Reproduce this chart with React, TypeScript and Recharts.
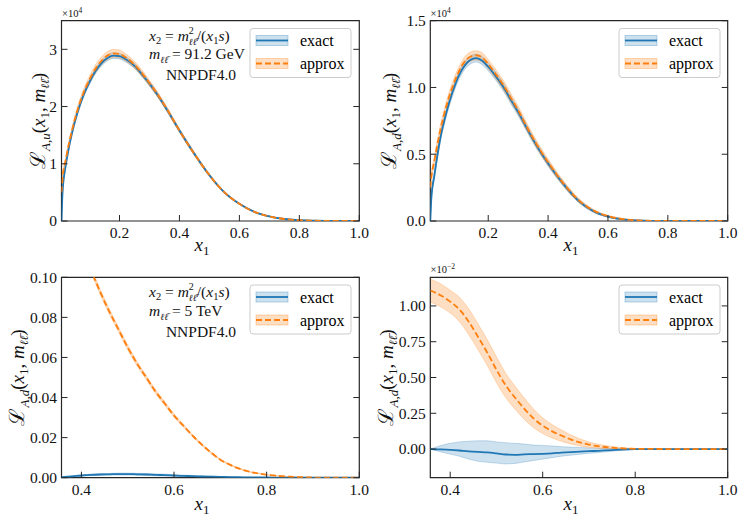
import React from 'react';
import { ComposedChart, Line, Area, XAxis, YAxis, ReferenceArea } from 'recharts';

const BLUE = '#1f77b4';
const ORANGE = '#ff7f0e';
const INK = '#262626';
const SERIF = '"Liberation Serif", "DejaVu Serif", serif';
const DJV = '"DejaVu Serif", serif';
const PAGE_W = 747;
const PAGE_H = 523;

// top row, m_ll = 91.2 GeV (values in units of 1e4)
const xTop = [0.0065, 0.01, 0.02, 0.03, 0.04, 0.06, 0.08, 0.1, 0.12, 0.14, 0.16, 0.18, 0.2, 0.22, 0.25, 0.28, 0.3, 0.33, 0.36, 0.4, 0.45, 0.5, 0.55, 0.6, 0.65, 0.7, 0.75, 0.8, 0.85, 0.9, 1.0];

const exactAu = [0, 0.5, 0.95, 1.25, 1.5, 1.9, 2.2, 2.43, 2.62, 2.76, 2.85, 2.89, 2.88, 2.83, 2.71, 2.53, 2.4, 2.18, 1.93, 1.58, 1.17, 0.8, 0.5, 0.3, 0.16, 0.08, 0.035, 0.015, 0.005, 0.002, 0];
const exactAuErr = [0, 0.02, 0.03, 0.03, 0.035, 0.04, 0.04, 0.045, 0.045, 0.05, 0.05, 0.05, 0.05, 0.05, 0.045, 0.04, 0.04, 0.035, 0.03, 0.03, 0.025, 0.02, 0.015, 0.01, 0.008, 0.005, 0.003, 0.002, 0.001, 0, 0];
const approxAu = [0.5, 0.75, 1.05, 1.32, 1.55, 1.94, 2.24, 2.47, 2.66, 2.8, 2.89, 2.93, 2.92, 2.86, 2.73, 2.55, 2.41, 2.19, 1.94, 1.58, 1.17, 0.8, 0.5, 0.3, 0.16, 0.08, 0.035, 0.015, 0.005, 0.002, 0];
const approxAuErr = [0.05, 0.05, 0.05, 0.05, 0.055, 0.06, 0.06, 0.065, 0.07, 0.07, 0.07, 0.07, 0.07, 0.065, 0.06, 0.055, 0.05, 0.045, 0.04, 0.035, 0.03, 0.025, 0.018, 0.012, 0.008, 0.005, 0.003, 0.002, 0.001, 0, 0];

const exactAd = [0, 0.17, 0.34, 0.49, 0.62, 0.81, 0.96, 1.08, 1.16, 1.205, 1.22, 1.2, 1.155, 1.1, 1.005, 0.89, 0.815, 0.69, 0.57, 0.43, 0.28, 0.155, 0.075, 0.033, 0.012, 0.004, 0.001, 0, 0, 0, 0];
const exactAdErr = [0, 0.02, 0.025, 0.03, 0.03, 0.03, 0.03, 0.03, 0.03, 0.03, 0.03, 0.03, 0.03, 0.03, 0.03, 0.028, 0.026, 0.024, 0.022, 0.02, 0.017, 0.013, 0.009, 0.006, 0.003, 0.001, 0, 0, 0, 0, 0];
const approxAd = [0.25, 0.33, 0.45, 0.57, 0.68, 0.86, 1.0, 1.11, 1.19, 1.23, 1.24, 1.225, 1.175, 1.115, 1.02, 0.905, 0.83, 0.7, 0.58, 0.44, 0.285, 0.16, 0.08, 0.036, 0.014, 0.005, 0.001, 0, 0, 0, 0];
const approxAdErr = [0.03, 0.03, 0.03, 0.035, 0.035, 0.035, 0.035, 0.035, 0.035, 0.035, 0.035, 0.035, 0.035, 0.035, 0.035, 0.033, 0.031, 0.029, 0.027, 0.024, 0.02, 0.015, 0.01, 0.007, 0.004, 0.002, 0.001, 0, 0, 0, 0];

// bottom row, m_ll = 5 TeV
const xBottom = [0.357, 0.38, 0.4, 0.42, 0.44, 0.46, 0.48, 0.5, 0.52, 0.54, 0.56, 0.58, 0.6, 0.62, 0.64, 0.66, 0.68, 0.7, 0.72, 0.75, 0.8, 0.85, 0.9, 0.95, 1.0];

const exactHi = [0.0003, 0.0007, 0.0011, 0.0014, 0.0016, 0.0017, 0.0018, 0.0018, 0.0017, 0.0016, 0.0014, 0.0013, 0.0011, 0.0009, 0.0008, 0.0006, 0.0005, 0.0004, 0.0003, 0.0002, 0.0001, 0, 0, 0, 0];
const exactHiErr = [0.0002, 0.0003, 0.0003, 0.0004, 0.0004, 0.0004, 0.0005, 0.0005, 0.0005, 0.0005, 0.0005, 0.0005, 0.0004, 0.0004, 0.0003, 0.0003, 0.0003, 0.0002, 0.0002, 0.0001, 0.0001, 0, 0, 0, 0];
const approxHi = [0.128, 0.121, 0.114, 0.104, 0.093, 0.083, 0.074, 0.065, 0.057, 0.05, 0.043, 0.037, 0.031, 0.026, 0.021, 0.0165, 0.0125, 0.009, 0.0065, 0.0038, 0.0015, 0.0005, 0.0001, 0, 0];
const approxHiErr = [0.0015, 0.0015, 0.0014, 0.0014, 0.0013, 0.0013, 0.0012, 0.0012, 0.0011, 0.001, 0.001, 0.0009, 0.0008, 0.0007, 0.0006, 0.0005, 0.0004, 0.0003, 0.0003, 0.0002, 0.0001, 0, 0, 0, 0];

// bottom right, units of 1e-2
const exactLo = [0, -0.002, -0.005, -0.01, -0.016, -0.02, -0.023, -0.03, -0.038, -0.04, -0.037, -0.035, -0.033, -0.03, -0.025, -0.021, -0.018, -0.015, -0.012, -0.007, -0.001, 0, 0, 0, 0];
const exactLoUpper = [0, 0.025, 0.04, 0.05, 0.055, 0.058, 0.058, 0.05, 0.044, 0.04, 0.035, 0.028, 0.025, 0.022, 0.017, 0.014, 0.011, 0.008, 0.006, 0.004, 0.001, 0, 0, 0, 0];
const exactLoLower = [0, -0.02, -0.035, -0.05, -0.07, -0.085, -0.092, -0.098, -0.104, -0.1, -0.09, -0.08, -0.07, -0.06, -0.05, -0.043, -0.036, -0.03, -0.024, -0.015, -0.003, 0, 0, 0, 0];
const approxLo = [1.108, 1.073, 1.03, 0.975, 0.89, 0.785, 0.675, 0.555, 0.445, 0.36, 0.283, 0.215, 0.163, 0.125, 0.095, 0.068, 0.047, 0.031, 0.02, 0.01, 0.002, 0.0005, 0, 0, 0];
const approxLoErr = [0.08, 0.08, 0.08, 0.085, 0.09, 0.09, 0.09, 0.09, 0.085, 0.08, 0.075, 0.065, 0.055, 0.047, 0.04, 0.032, 0.025, 0.019, 0.014, 0.008, 0.002, 0.0005, 0, 0, 0];

const ticksTopX = [0.2, 0.4, 0.6, 0.8, 1.0];
const ticksBottomX = [0.4, 0.6, 0.8, 1.0];

type Panel = {
  left: number; top: number; right: number; bottom: number;
  rows: any[];
  xDomain: [number, number]; yDomain: [number, number];
  xTicks: number[]; yTicks: number[];
  yFmt: (v: number) => string;
};

function rows(xs: number[], ex: number[], exLo: number[], exHi: number[], ap: number[], apLo: number[], apHi: number[]) {
  return xs.map((x, i) => ({
    x,
    exact: ex[i],
    exactBand: [exLo[i], exHi[i]],
    approx: ap[i],
    approxBand: [apLo[i], apHi[i]],
  }));
}
const minus = (v: number[], e: number[]) => v.map((a, i) => a - e[i]);
const plus = (v: number[], e: number[]) => v.map((a, i) => a + e[i]);

const panels: Panel[] = [
  {
    left: 61.5, top: 20.7, right: 359.3, bottom: 221,
    rows: rows(xTop, exactAu, minus(exactAu, exactAuErr), plus(exactAu, exactAuErr), approxAu, minus(approxAu, approxAuErr), plus(approxAu, approxAuErr)),
    xDomain: [0.0065, 1], yDomain: [0, 3.5], xTicks: ticksTopX, yTicks: [0, 1, 2, 3],
    yFmt: (v) => v.toFixed(0),
  },
  {
    left: 430.3, top: 20.7, right: 727.7, bottom: 221,
    rows: rows(xTop, exactAd, minus(exactAd, exactAdErr), plus(exactAd, exactAdErr), approxAd, minus(approxAd, approxAdErr), plus(approxAd, approxAdErr)),
    xDomain: [0.0065, 1], yDomain: [0, 1.5], xTicks: ticksTopX, yTicks: [0, 0.5, 1, 1.5],
    yFmt: (v) => v.toFixed(1),
  },
  {
    left: 61.5, top: 277.3, right: 359.3, bottom: 477.7,
    rows: rows(xBottom, exactHi, minus(exactHi, exactHiErr), plus(exactHi, exactHiErr), approxHi, minus(approxHi, approxHiErr), plus(approxHi, approxHiErr)),
    xDomain: [0.357, 1], yDomain: [0, 0.1], xTicks: ticksBottomX, yTicks: [0, 0.02, 0.04, 0.06, 0.08, 0.1],
    yFmt: (v) => v.toFixed(2),
  },
  {
    left: 430.3, top: 277.3, right: 727.7, bottom: 477.7,
    rows: rows(xBottom, exactLo, exactLoLower, exactLoUpper, approxLo, minus(approxLo, approxLoErr), plus(approxLo, approxLoErr)),
    xDomain: [0.357, 1], yDomain: [-0.2, 1.2], xTicks: ticksBottomX, yTicks: [0, 0.25, 0.5, 0.75, 1],
    yFmt: (v) => v.toFixed(2),
  },
];

const TICK_FONT = 15.5;

function PanelChart({ p }: { p: Panel }) {
  const xTick = (props: any) => {
    const x = props.x;
    return (
      <g>
        <line x1={x} x2={x} y1={p.bottom} y2={p.bottom - 6} stroke={INK} strokeWidth={1} />
        <text x={x} y={p.bottom + 17} textAnchor="middle" fontFamily={SERIF} fontSize={TICK_FONT} fill="#111">
          {props.payload.value.toFixed(1)}
        </text>
      </g>
    );
  };
  const yTick = (props: any) => {
    const y = props.y;
    return (
      <g>
        <line x1={p.left} x2={p.left + 6} y1={y} y2={y} stroke={INK} strokeWidth={1} />
        <line x1={p.right - 6} x2={p.right} y1={y} y2={y} stroke={INK} strokeWidth={1} />
        <text x={p.left - 4.5} y={y} dy="0.35em" textAnchor="end" fontFamily={SERIF} fontSize={TICK_FONT} fill="#111">
          {p.yFmt(props.payload.value)}
        </text>
      </g>
    );
  };
  return (
    <div style={{ position: 'absolute', left: 0, top: 0 }}>
      <ComposedChart
        width={PAGE_W}
        height={PAGE_H}
        data={p.rows}
        margin={{ top: p.top, right: PAGE_W - p.right, bottom: 0, left: 0 }}
      >
        <XAxis
          dataKey="x" type="number" domain={p.xDomain} ticks={p.xTicks} allowDataOverflow
          height={PAGE_H - p.bottom} axisLine={false} tickLine={false} tick={xTick} interval={0}
        />
        <YAxis
          type="number" domain={p.yDomain} ticks={p.yTicks} allowDataOverflow
          width={p.left} axisLine={false} tickLine={false} tick={yTick} interval={0}
        />
        <Area dataKey="exactBand" type="monotone" fill={BLUE} fillOpacity={0.22} stroke={BLUE} strokeOpacity={0.3} strokeWidth={0.8} dot={false} activeDot={false} isAnimationActive={false} />
        <Line dataKey="exact" type="monotone" stroke={BLUE} strokeWidth={1.8} dot={false} activeDot={false} isAnimationActive={false} />
        <Area dataKey="approxBand" type="monotone" fill={ORANGE} fillOpacity={0.25} stroke={ORANGE} strokeOpacity={0.3} strokeWidth={0.8} dot={false} activeDot={false} isAnimationActive={false} />
        <Line dataKey="approx" type="monotone" stroke={ORANGE} strokeWidth={1.8} strokeDasharray="6 3" dot={false} activeDot={false} isAnimationActive={false} />
        <ReferenceArea x1={p.xDomain[0]} x2={p.xDomain[1]} y1={p.yDomain[0]} y2={p.yDomain[1]} fill="none" stroke={INK} strokeWidth={1.2} ifOverflow="visible" />
      </ComposedChart>
    </div>
  );
}

function LegendBox({ x, y }: { x: number; y: number }) {
  return (
    <g>
      <rect x={x} y={y} width={101} height={49} rx={3} fill="#fff" fillOpacity={0.8} stroke="#cccccc" strokeWidth={1} />
      <rect x={x + 6} y={y + 7} width={32} height={10} fill={BLUE} fillOpacity={0.22} stroke={BLUE} strokeOpacity={0.3} />
      <line x1={x + 6} x2={x + 38} y1={y + 12} y2={y + 12} stroke={BLUE} strokeWidth={1.8} />
      <text x={x + 50} y={y + 12} dy="0.35em" fontFamily={SERIF} fontSize={16}>exact</text>
      <rect x={x + 6} y={y + 30} width={32} height={10} fill={ORANGE} fillOpacity={0.25} stroke={ORANGE} strokeOpacity={0.3} />
      <line x1={x + 6} x2={x + 38} y1={y + 35} y2={y + 35} stroke={ORANGE} strokeWidth={1.8} strokeDasharray="6 3" />
      <text x={x + 50} y={y + 35} dy="0.35em" fontFamily={SERIF} fontSize={16}>approx</text>
    </g>
  );
}

const LL = 'ℓℓ\u0304';

// three-line annotation kept in one text element
function Annotation({ top, mass }: { top: number; mass: string }) {
  return (
    <text x={149} y={top + 20} fontFamily={SERIF} fontSize={15.5} fill="#111">
      <tspan fontStyle="italic">x</tspan>
      <tspan fontSize={10.5} dy={3}>2</tspan>
      <tspan dy={-3}> = </tspan>
      <tspan fontStyle="italic">m</tspan>
      <tspan fontSize={10} dy={-7}>2</tspan>
      <tspan fontFamily={DJV} fontSize={9.5} fontStyle="italic" dx={-5} dy={11}>{LL}</tspan>
      <tspan dy={-4}>/(</tspan>
      <tspan fontStyle="italic">x</tspan>
      <tspan fontSize={10.5} dy={3}>1</tspan>
      <tspan dy={-3} fontStyle="italic">s</tspan>
      <tspan>)</tspan>
      <tspan x={149} y={top + 38.5} fontStyle="italic">m</tspan>
      <tspan fontFamily={DJV} fontSize={9.5} dy={4} fontStyle="italic">{LL}</tspan>
      <tspan dy={-4}>{' = ' + mass}</tspan>
      <tspan x={201} y={top + 59.5} textAnchor="middle">NNPDF4.0</tspan>
    </text>
  );
}

function YLabel({ cx, cy, sub }: { cx: number; cy: number; sub: string }) {
  return (
    <text
      x={cx} y={cy} dy="0.35em" textAnchor="middle" transform={`rotate(-90 ${cx} ${cy})`}
      fontFamily={SERIF} fontSize={19} fill="#111"
    >
      <tspan fontSize={21}>ℒ</tspan>
      <tspan fontSize={13} dy={5} fontStyle="italic">{sub}</tspan>
      <tspan dy={-5}>(</tspan>
      <tspan fontStyle="italic">x</tspan>
      <tspan fontSize={13} dy={4}>1</tspan>
      <tspan dy={-4}>, </tspan>
      <tspan fontStyle="italic">m</tspan>
      <tspan fontFamily={DJV} fontSize={11.5} dy={4} fontStyle="italic">{LL}</tspan>
      <tspan dy={-4}>)</tspan>
    </text>
  );
}

function XLabel({ cx, y }: { cx: number; y: number }) {
  return (
    <text x={cx} y={y} textAnchor="middle" fontFamily={SERIF} fontSize={19} fill="#111">
      <tspan fontStyle="italic">x</tspan>
      <tspan fontSize={13} dy={4}>1</tspan>
    </text>
  );
}

function Offset({ x, y, exp }: { x: number; y: number; exp: string }) {
  return (
    <text x={x} y={y} fontFamily={SERIF} fontSize={10.5} fill="#111">
      ×10<tspan fontSize={7.5} dy={-4}>{exp}</tspan>
    </text>
  );
}

export default function App() {
  return (
    <div style={{ position: 'absolute', left: 0, top: 0, width: PAGE_W, height: PAGE_H, background: '#fff' }}>
      {panels.map((p, i) => (
        <PanelChart key={i} p={p} />
      ))}
      <svg width={PAGE_W} height={PAGE_H} style={{ position: 'absolute', left: 0, top: 0, pointerEvents: 'none' }}>
        <Annotation top={20.7} mass="91.2 GeV" />
        <Annotation top={277.3} mass="5 TeV" />
        <LegendBox x={250} y={28.5} />
        <LegendBox x={619} y={28.5} />
        <LegendBox x={250} y={285} />
        <LegendBox x={619} y={285} />
        <YLabel cx={38} cy={121} sub="A,u" />
        <YLabel cx={389} cy={121} sub="A,d" />
        <YLabel cx={17} cy={377.5} sub="A,d" />
        <YLabel cx={386} cy={377.5} sub="A,d" />
        <XLabel cx={202} y={251} />
        <XLabel cx={571} y={251} />
        <XLabel cx={202} y={510} />
        <XLabel cx={571} y={510} />
        <Offset x={62} y={16.5} exp="4" />
        <Offset x={430.5} y={16.5} exp="4" />
        <Offset x={430.5} y={273} exp="−2" />
      </svg>
    </div>
  );
}
